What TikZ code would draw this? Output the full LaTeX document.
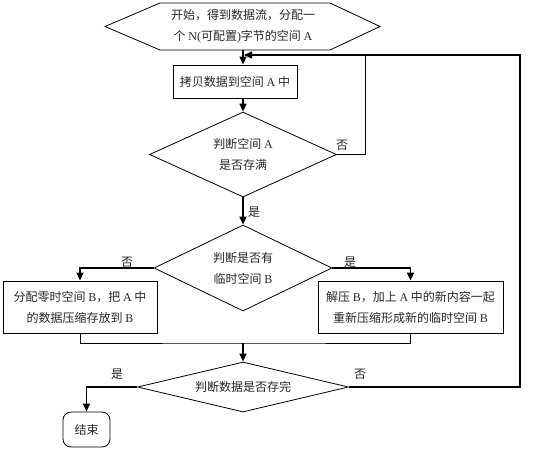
\documentclass[tikz,border=0pt]{standalone}
\usepackage{fontspec}
\setmainfont{Noto Sans CJK SC}
\newfontfamily\lat{Liberation Serif}
\usetikzlibrary{arrows.meta,shapes.geometric}
\begin{document}
\begin{tikzpicture}[x=1pt,y=-1pt,
  txt/.style={font=\fontsize{12}{21}\selectfont, align=center, text=black!85},
  box/.style={draw, line width=0.8pt, inner sep=0pt, txt},
  dia/.style={draw, diamond, line width=0.8pt, inner sep=0pt, txt},
  arr/.style={line width=1.3pt, -{Triangle[length=8pt,width=7pt]}},
  ln/.style={line width=0.9pt},
  lbl/.style={txt, inner sep=0pt}]
\useasboundingbox (0,0) rectangle (533,450);
% start hexagon
\node[txt, minimum width=275pt, minimum height=47pt, inner sep=0pt] (start) at (243,26.5)
  {开始，得到数据流，分配一\\个 {\lat N(}可配置{\lat )}字节的空间 {\lat A}};
\draw[line width=0.8pt] (105,26.5) -- (160,3) -- (330,3) -- (380,26.5) -- (330,50) -- (160,50) -- cycle;
\node[box, minimum width=124pt, minimum height=33pt] (copy) at (235,81.5) {拷贝数据到空间 {\lat A} 中};
\node[dia, shape aspect=2.2, minimum width=187pt, minimum height=85pt] (d1) at (243,154.5) {判断空间 {\lat A}\\是否存满};
\node[dia, shape aspect=2.07, minimum width=178pt, minimum height=86pt] (d2) at (243,268) {判断是否有\\临时空间 {\lat B}};
\node[box, minimum width=154pt, minimum height=52pt] (lbox) at (80,307)
  {分配零时空间 {\lat B}，把 {\lat A} 中\\的数据压缩存放到 {\lat B}};
\node[box, minimum width=185pt, minimum height=52pt] (rbox) at (410.5,307)
  {解压 {\lat B}，加上 {\lat A} 中的新内容一起\\重新压缩形成新的临时空间 {\lat B}};
\node[dia, shape aspect=4.2, minimum width=211pt, minimum height=50pt] (d3) at (243,387) {判断数据是否存完};
\node[box, rounded corners=8pt, minimum width=47pt, minimum height=35pt] (end) at (86.5,429.5) {结束};
% coordinates
\coordinate (loopA) at (365,55);
\coordinate (loopR) at (520,55);
\coordinate (back) at (244,55);
\coordinate (merge) at (243,343);
% connectors
\draw[arr] (start.south) -- (start.south |- copy.north);
\draw[arr] (copy.south -| d1.north) -- (d1.north);
\draw[ln] (d1.east) -| (loopA);
\draw[arr] (d3.east) -| (loopR) -- (back);
\draw[arr] (d1.south) -- (d2.north);
\draw[arr] (d2.west) -| (lbox.north);
\draw[arr] (d2.east) -| (rbox.north);
\draw[ln] (lbox.south) |- (merge) -| (rbox.south);
\draw[arr] (merge) -- (d3.north);
\draw[arr] (d3.west) -| (end.north);
% labels
\node[lbl] (n1) at (342,145) {否};
\node[lbl] (y1) at (254,212) {是};
\node[lbl] (n2) at (127,262) {否};
\node[lbl] (y2) at (350,262) {是};
\node[lbl] (y3) at (117,374) {是};
\node[lbl] (n3) at (360,374) {否};
\end{tikzpicture}
\end{document}
